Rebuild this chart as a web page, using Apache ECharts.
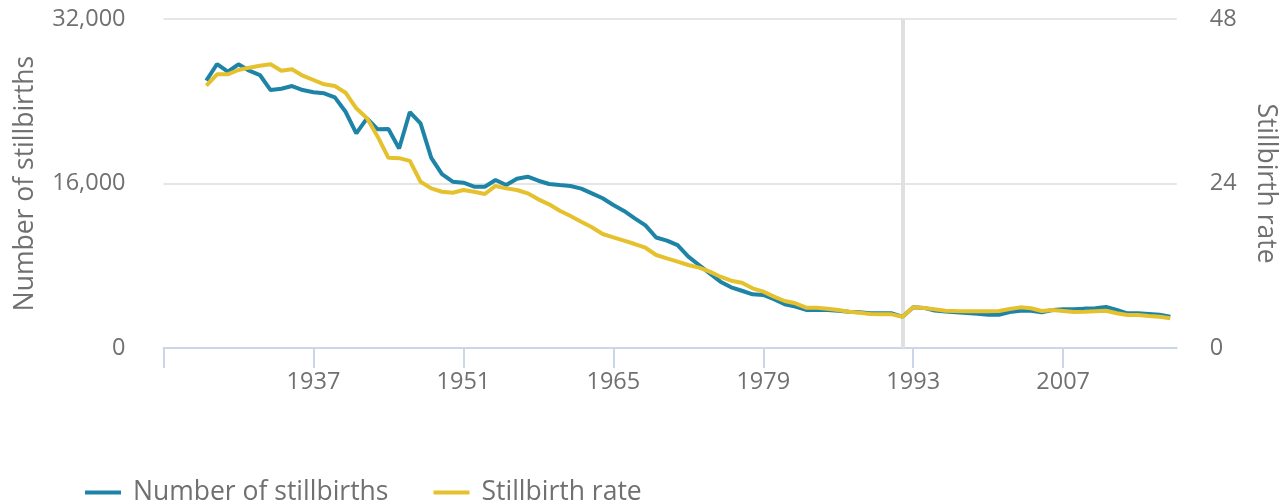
<!DOCTYPE html>
<html>
<head>
<meta charset="utf-8">
<script src="https://cdn.jsdelivr.net/npm/echarts@6/dist/echarts.min.js"></script>
<style>
html,body{margin:0;padding:0;background:#fff;}
#chart{width:1284px;height:503px;}
</style>
</head>
<body>
<div id="chart"></div>
<script>
const years = [1927,1928,1929,1930,1931,1932,1933,1934,1935,1936,1937,1938,1939,1940,1941,1942,1943,1944,1945,1946,1947,1948,1949,1950,1951,1952,1953,1954,1955,1956,1957,1958,1959,1960,1961,1962,1963,1964,1965,1966,1967,1968,1969,1970,1971,1972,1973,1974,1975,1976,1977,1978,1979,1980,1981,1982,1983,1984,1985,1986,1987,1988,1989,1990,1991,1992,1993,1994,1995,1996,1997,1998,1999,2000,2001,2002,2003,2004,2005,2006,2007,2008,2009,2010,2011,2012,2013,2014,2015,2016,2017];
const stillbirths = [26000,27620,26870,27590,26970,26550,25090,25220,25480,25090,24870,24770,24380,22980,20880,22340,21270,21300,19400,22950,21850,18500,16920,16180,16080,15690,15690,16340,15850,16470,16660,16270,15950,15850,15760,15500,15040,14560,13910,13330,12610,11930,10750,10440,10000,8880,8070,7260,6450,5900,5570,5220,5160,4740,4250,4020,3700,3700,3700,3630,3530,3470,3370,3370,3370,3050,3960,3900,3650,3560,3470,3400,3340,3240,3240,3500,3630,3630,3470,3700,3760,3760,3830,3860,3990,3700,3370,3370,3310,3240,3050];
const stillbirthRate = [38.27,39.93,39.93,40.56,40.9,41.19,41.39,40.46,40.66,39.73,39.10,38.47,38.23,37.25,34.97,33.51,30.83,27.75,27.7,27.3,24.26,23.29,22.80,22.66,23.05,22.80,22.47,23.64,23.29,23.05,22.57,21.69,20.96,20.03,19.26,18.43,17.61,16.63,16.15,15.66,15.17,14.63,13.57,13.08,12.60,12.11,11.72,11.14,10.40,9.82,9.53,8.71,8.22,7.49,6.86,6.52,5.88,5.88,5.73,5.54,5.30,5.15,4.96,4.91,4.91,4.57,5.93,5.85,5.64,5.44,5.40,5.37,5.37,5.37,5.40,5.69,5.93,5.79,5.40,5.54,5.40,5.25,5.30,5.37,5.44,5.06,4.81,4.81,4.67,4.57,4.33];
const xTickValues = [1923,1937,1951,1965,1979,1993,2007];
const xLabelValues = [1937,1951,1965,1979,1993,2007];
const breakYear = 1992;
const seriesNames = ['Number of stillbirths','Stillbirth rate'];

const font = '"Open Sans", sans-serif';
const textColor = '#707070';
const chart = echarts.init(document.getElementById('chart'));
chart.setOption({
  animation: false,
  backgroundColor: '#ffffff',
  textStyle: {fontFamily: font},
  grid: {left: 163.5, right: 107.3, top: 19, bottom: 155, containLabel: false, outerBoundsMode: 'none'},
  legend: {
    left: 80, top: 474,
    itemWidth: 36, itemHeight: 4, itemGap: 45,
    icon: 'rect',
    textStyle: {fontFamily: font, fontSize: 26.5, color: textColor, padding: [0,0,0,7]},
    data: seriesNames
  },
  xAxis: {
    type: 'value', min: 1923, max: 2017.6,
    axisLine: {show: true, lineStyle: {color: '#ccd6eb', width: 2}},
    axisTick: {show: true, length: 20, customValues: xTickValues, lineStyle: {color: '#ccd6eb', width: 2}},
    axisLabel: {customValues: xLabelValues, color: textColor, fontSize: 23.5, fontFamily: font, margin: 22,
      formatter: v => String(v)},
    splitLine: {show: false}
  },
  yAxis: [
    {
      type: 'value', min: 0, max: 32000, interval: 16000,
      name: seriesNames[0], nameLocation: 'middle', nameGap: 125, nameRotate: 90,
      nameTextStyle: {color: textColor, fontSize: 26.5, fontFamily: font},
      axisLine: {show: false}, axisTick: {show: false},
      axisLabel: {color: textColor, fontSize: 23.5, fontFamily: font, margin: 38,
        formatter: v => v.toLocaleString('en-US')},
      splitLine: {show: true, lineStyle: {color: '#e6e6e6', width: 2}}
    },
    {
      type: 'value', min: 0, max: 48, interval: 24,
      name: seriesNames[1], nameLocation: 'middle', nameGap: 75, nameRotate: 270,
      nameTextStyle: {color: textColor, fontSize: 26.5, fontFamily: font},
      axisLine: {show: false}, axisTick: {show: false},
      axisLabel: {color: textColor, fontSize: 23.5, fontFamily: font, margin: 33},
      splitLine: {show: false}
    }
  ],
  series: [
    {
      name: seriesNames[0], type: 'line', yAxisIndex: 0,
      data: years.map((y, i) => [y, stillbirths[i]]),
      showSymbol: false, symbol: 'none',
      lineStyle: {color: '#1d84a8', width: 4}, itemStyle: {color: '#1d84a8'},
      z: 2,
      markLine: {
        silent: true, symbol: 'none', label: {show: false},
        lineStyle: {color: '#e0e0e0', width: 4, type: 'solid'},
        data: [{xAxis: breakYear}],
        z: 1
      }
    },
    {
      name: seriesNames[1], type: 'line', yAxisIndex: 1,
      data: years.map((y, i) => [y, stillbirthRate[i]]),
      showSymbol: false, symbol: 'none',
      lineStyle: {color: '#e5c12e', width: 4}, itemStyle: {color: '#e5c12e'},
      z: 3
    }
  ]
});
</script>
</body>
</html>
